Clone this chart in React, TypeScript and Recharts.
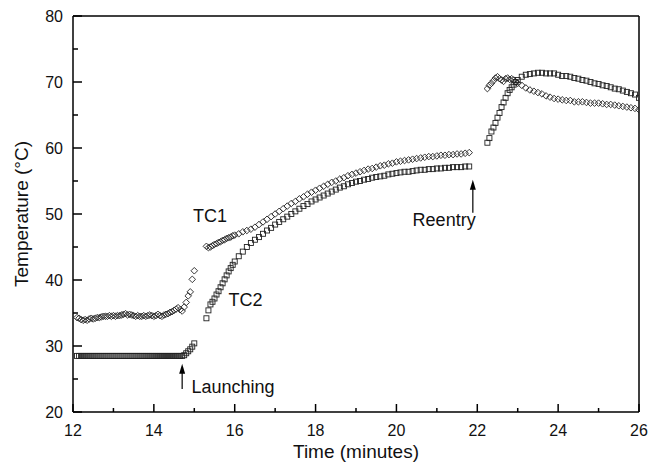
import React from "react";
import {
  ScatterChart,
  Scatter,
  XAxis,
  YAxis,
  ReferenceLine,
  ReferenceDot,
} from "recharts";

// time stamps (minutes) for each recorded stretch
const preTimes = [
  12.1, 12.15, 12.2, 12.25, 12.3, 12.35, 12.4, 12.45, 12.5, 12.55, 12.6, 12.65, 12.7, 12.75,
  12.8, 12.85, 12.9, 12.95, 13.0, 13.05, 13.1, 13.15, 13.2, 13.25, 13.3, 13.35, 13.4, 13.45,
  13.5, 13.55, 13.6, 13.65, 13.7, 13.75, 13.8, 13.85, 13.9, 13.95, 14.0, 14.05, 14.1, 14.15,
  14.2, 14.25, 14.3, 14.35, 14.4, 14.45, 14.5, 14.55, 14.6, 14.65, 14.7, 14.75, 14.8, 14.85,
  14.9, 14.95, 15.0,
];
const climbTimes = [
  15.3, 15.35, 15.4, 15.45, 15.5, 15.55, 15.6, 15.65, 15.7, 15.75, 15.8, 15.85, 15.9, 15.95,
  16.0, 16.1, 16.2, 16.3, 16.4, 16.5, 16.6, 16.7, 16.8, 16.9, 17.0, 17.1, 17.2, 17.3, 17.4,
  17.5, 17.6, 17.7, 17.8, 17.9, 18.0, 18.1, 18.2, 18.3, 18.4, 18.5, 18.6, 18.7, 18.8, 18.9,
  19.0, 19.1, 19.2, 19.3, 19.4, 19.5, 19.6, 19.7, 19.8, 19.9, 20.0, 20.1, 20.2, 20.3, 20.4,
  20.5, 20.6, 20.7, 20.8, 20.9, 21.0, 21.1, 21.2, 21.3, 21.4, 21.5, 21.6, 21.7, 21.8,
];
const reentryTimes = [
  22.25, 22.3, 22.35, 22.4, 22.45, 22.5, 22.55, 22.6, 22.65, 22.7, 22.75, 22.8, 22.85, 22.9,
  22.95, 23.0, 23.1, 23.2, 23.3, 23.4, 23.5, 23.6, 23.7, 23.8, 23.9, 24.0, 24.1, 24.2, 24.3,
  24.4, 24.5, 24.6, 24.7, 24.8, 24.9, 25.0, 25.1, 25.2, 25.3, 25.4, 25.5, 25.6, 25.7, 25.8,
  25.9, 26.0,
];

// TC1 (diamonds)
const tc1Pre = [
  34.3, 34.2, 34.0, 33.9, 34.0, 33.9, 34.1, 34.2, 34.1, 34.2, 34.3, 34.3, 34.4, 34.5,
  34.5, 34.5, 34.6, 34.5, 34.6, 34.5, 34.6, 34.6, 34.7, 34.8, 34.9, 34.7, 34.8, 34.7,
  34.6, 34.5, 34.6, 34.5, 34.5, 34.6, 34.5, 34.6, 34.7, 34.6, 34.5, 34.6, 34.8, 34.6,
  34.5, 34.7, 34.8, 34.9, 35.1, 35.2, 35.4, 35.6, 35.8, 35.5, 35.3, 35.9, 36.6, 37.6,
  38.2, 40.1, 41.4,
];
const tc1Climb = [
  45.1, 44.9, 45.0, 45.2, 45.4, 45.5, 45.7, 45.8, 46.0, 46.1, 46.3, 46.4, 46.5, 46.7,
  46.8, 47.0, 47.3, 47.5, 47.7, 48.0, 48.4, 48.8, 49.2, 49.6, 50.0, 50.4, 50.8, 51.2, 51.6,
  51.9, 52.3, 52.6, 53.0, 53.3, 53.6, 53.9, 54.2, 54.5, 54.8, 55.0, 55.3, 55.5, 55.8, 56.0,
  56.2, 56.4, 56.6, 56.8, 56.9, 57.1, 57.3, 57.4, 57.6, 57.7, 57.9, 58.0, 58.1, 58.2, 58.3,
  58.4, 58.5, 58.6, 58.7, 58.7, 58.8, 58.9, 58.9, 59.0, 59.0, 59.1, 59.1, 59.2, 59.3,
];
const tc1Reentry = [
  69.0, 69.5, 69.8, 70.2, 70.6, 70.8, 70.5, 70.3, 70.1, 70.5, 70.6, 70.4, 70.5, 70.3,
  70.0, 69.8, 69.5, 69.1, 68.8, 68.6, 68.4, 68.2, 67.9, 67.7, 67.5, 67.4, 67.3, 67.2, 67.2,
  67.0, 67.0, 67.0, 66.9, 66.8, 66.8, 66.8, 66.7, 66.6, 66.6, 66.5, 66.4, 66.3, 66.2, 66.1,
  66.0, 65.8,
];

// TC2 (squares)
const tc2Pre = [
  28.5, 28.5, 28.5, 28.5, 28.5, 28.5, 28.5, 28.5, 28.5, 28.5, 28.5, 28.5, 28.5, 28.5,
  28.5, 28.5, 28.5, 28.5, 28.5, 28.5, 28.5, 28.5, 28.5, 28.5, 28.5, 28.5, 28.5, 28.5,
  28.5, 28.5, 28.5, 28.5, 28.5, 28.5, 28.5, 28.5, 28.5, 28.5, 28.5, 28.5, 28.5, 28.5,
  28.5, 28.5, 28.5, 28.5, 28.5, 28.5, 28.5, 28.5, 28.5, 28.5, 28.5, 28.6, 28.9, 29.2,
  29.5, 29.9, 30.4,
];
const tc2Climb = [
  34.2, 35.4, 36.3, 36.7, 37.2, 37.8, 38.3, 38.9, 39.5, 40.1, 40.7, 41.3, 41.8, 42.3,
  42.8, 43.6, 44.3, 45.0, 45.6, 46.1, 46.5, 47.0, 47.5, 47.9, 48.4, 48.8, 49.2, 49.6, 50.0,
  50.4, 50.8, 51.2, 51.5, 51.9, 52.2, 52.5, 52.8, 53.1, 53.4, 53.7, 54.0, 54.2, 54.5, 54.7,
  54.9, 55.0, 55.2, 55.3, 55.5, 55.6, 55.7, 55.8, 56.0, 56.1, 56.2, 56.3, 56.4, 56.4, 56.5,
  56.6, 56.7, 56.7, 56.8, 56.8, 56.9, 56.9, 57.0, 57.0, 57.1, 57.1, 57.1, 57.2, 57.2,
];
const tc2Reentry = [
  60.8, 61.5, 62.5, 63.1, 63.8, 64.6, 65.3, 66.2, 66.9, 67.6, 68.3, 68.8, 69.2, 69.6,
  70.0, 70.3, 70.8, 71.1, 71.2, 71.3, 71.4, 71.4, 71.3, 71.3, 71.3, 71.1, 70.9, 70.9, 70.8,
  70.6, 70.5, 70.3, 70.2, 70.0, 69.8, 69.7, 69.5, 69.4, 69.2, 69.0, 68.9, 68.7, 68.5, 68.3,
  68.1, 67.6,
];

const xTicks = [12, 13, 14, 15, 16, 17, 18, 19, 20, 21, 22, 23, 24, 25, 26];
const yTicks = [20, 25, 30, 35, 40, 45, 50, 55, 60, 65, 70, 75, 80];

const FONT = '"Liberation Sans", Arial, Helvetica, sans-serif';

function toPoints(times: number[], temps: number[]) {
  return times.map((t, i) => ({ t, v: temps[i] }));
}

const tc1Data = [
  ...toPoints(preTimes, tc1Pre),
  ...toPoints(climbTimes, tc1Climb),
  ...toPoints(reentryTimes, tc1Reentry),
];
const tc2Data = [
  ...toPoints(preTimes, tc2Pre),
  ...toPoints(climbTimes, tc2Climb),
  ...toPoints(reentryTimes, tc2Reentry),
];

function Diamond(props: any) {
  const { cx, cy } = props;
  const r = 3.3;
  return (
    <polygon
      points={`${cx},${cy - r} ${cx + r},${cy} ${cx},${cy + r} ${cx - r},${cy}`}
      fill="none"
      stroke="#222"
      strokeWidth={0.9}
    />
  );
}

function Square(props: any) {
  const { cx, cy } = props;
  return (
    <rect x={cx - 2.5} y={cy - 2.5} width={5} height={5} fill="none" stroke="#222" strokeWidth={0.9} />
  );
}

function XTick({ x, y, payload }: any) {
  const major = payload.value % 2 === 0;
  return (
    <g>
      <line x1={x} y1={y} x2={x} y2={y - (major ? 8 : 4)} stroke="#000" strokeWidth={1.5} />
      {major && (
        <text x={x} y={y + 24} textAnchor="middle" fontSize={16} fill="#111">
          {payload.value}
        </text>
      )}
    </g>
  );
}

function YTick({ x, y, payload }: any) {
  const major = payload.value % 10 === 0;
  return (
    <g>
      <line x1={x} y1={y} x2={x + (major ? 9 : 5)} y2={y} stroke="#000" strokeWidth={1.5} />
      {major && (
        <text x={x - 10} y={y + 6} textAnchor="end" fontSize={16} fill="#111">
          {payload.value}
        </text>
      )}
    </g>
  );
}

function Arrow(p: any) {
  const { x1, y1, y2 } = p;
  const tip = Math.min(y1, y2);
  const base = Math.max(y1, y2);
  return (
    <g>
      <line x1={x1} y1={tip + 6} x2={x1} y2={base} stroke="#000" strokeWidth={1.2} />
      <polygon points={`${x1},${tip} ${x1 - 3},${tip + 10} ${x1 + 3},${tip + 10}`} fill="#000" />
    </g>
  );
}

const note = (value: string) => ({
  value,
  position: "center" as const,
  fontSize: 18,
  fill: "#111",
});

export default function App() {
  return (
    <div style={{ position: "absolute", left: 0, top: 0, background: "#fff", fontFamily: FONT }}>
      <ScatterChart width={649} height={464} margin={{ top: 16, right: 10, bottom: 0, left: 0 }}>
        <XAxis
          dataKey="t"
          type="number"
          domain={[12, 26]}
          ticks={xTicks}
          interval={0}
          allowDataOverflow
          height={52}
          tickSize={0}
          tickMargin={0}
          tickLine={false}
          tick={<XTick />}
          axisLine={{ stroke: "#000", strokeWidth: 1.5 }}
          label={{
            content: (lp: any) => {
              const vb = lp.viewBox;
              return (
                <text x={vb.x + vb.width / 2} y={vb.y + 46} textAnchor="middle" fontSize={19} fill="#111">
                  Time (minutes)
                </text>
              );
            },
          }}
        />
        <YAxis
          dataKey="v"
          type="number"
          domain={[20, 80]}
          ticks={yTicks}
          interval={0}
          allowDataOverflow
          width={73}
          tickSize={0}
          tickMargin={0}
          tickLine={false}
          tick={<YTick />}
          axisLine={{ stroke: "#000", strokeWidth: 1.5 }}
          label={{
            content: (lp: any) => {
              const vb = lp.viewBox;
              const cx = vb.x + 21;
              const cy = vb.y + vb.height / 2;
              return (
                <text
                  x={cx}
                  y={cy}
                  transform={`rotate(-90 ${cx} ${cy})`}
                  textAnchor="middle"
                  dominantBaseline="central"
                  fontSize={19}
                  fill="#111"
                >
                  Temperature (°C)
                </text>
              );
            },
          }}
        />
        <ReferenceLine y={80} stroke="#000" strokeWidth={1.5} />
        <ReferenceLine x={26} stroke="#000" strokeWidth={1.5} />

        <Scatter name="TC1" data={tc1Data} shape={<Diamond />} isAnimationActive={false} />
        <Scatter name="TC2" data={tc2Data} shape={<Square />} isAnimationActive={false} />

        <ReferenceLine
          segment={[
            { x: 14.7, y: 27.3 },
            { x: 14.7, y: 23.5 },
          ]}
          shape={<Arrow />}
        />
        <ReferenceLine
          segment={[
            { x: 21.89, y: 55.2 },
            { x: 21.89, y: 50.2 },
          ]}
          shape={<Arrow />}
        />

        <ReferenceDot x={15.39} y={49.8} r={1} fill="none" stroke="none" label={note("TC1")} />
        <ReferenceDot x={16.27} y={37.05} r={1} fill="none" stroke="none" label={note("TC2")} />
        <ReferenceDot x={15.96} y={23.8} r={1} fill="none" stroke="none" label={note("Launching")} />
        <ReferenceDot x={21.18} y={49.1} r={1} fill="none" stroke="none" label={note("Reentry")} />
      </ScatterChart>
    </div>
  );
}
